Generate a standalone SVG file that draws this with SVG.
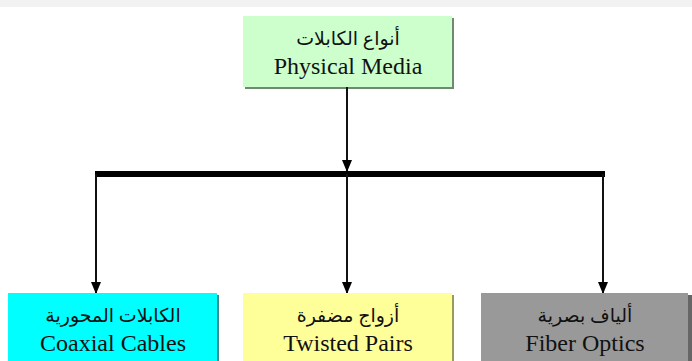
<svg xmlns="http://www.w3.org/2000/svg" width="692" height="361" viewBox="0 0 692 361">
<style>
.t{font-family:"Liberation Serif","Times New Roman",serif;font-size:24px;fill:#111;text-anchor:middle}
.a{font-family:"Liberation Serif","DejaVu Sans",serif;font-size:19px;fill:#111;text-anchor:middle}
.ln{stroke:#111;stroke-width:2;fill:none}
</style>
<defs>
<marker id="ah" viewBox="0 0 12 10" refX="12" refY="5" markerWidth="12" markerHeight="10" markerUnits="userSpaceOnUse" orient="auto">
<path d="M0,0 L12,5 L0,10 Z" fill="#000"/>
</marker>
</defs>
<rect x="0" y="0" width="692" height="361" fill="#fff"/>
<rect x="0" y="0" width="692" height="7" fill="#f2f2f2"/>
<g id="physical-media">
<rect x="245" y="18" width="209" height="71" fill="#6f8a6f"/>
<rect x="243" y="16" width="209" height="71" fill="#ccffcc"/>
<text class="a" x="348" y="45" direction="rtl">أنواع الكابلات</text>
<text class="t" x="348" y="74">Physical Media</text>
</g>
<g id="connectors">
<line class="ln" x1="347" y1="87" x2="347" y2="172" marker-end="url(#ah)"/>
<rect x="95" y="171" width="510" height="6" fill="#000"/>
<line class="ln" x1="96" y1="174" x2="96" y2="294" marker-end="url(#ah)"/>
<line class="ln" x1="347" y1="174" x2="347" y2="294" marker-end="url(#ah)"/>
<line class="ln" x1="603" y1="174" x2="603" y2="294" marker-end="url(#ah)"/>
</g>
<g id="coaxial">
<rect x="10" y="295" width="209" height="70" fill="#3a8a8a"/>
<rect x="8" y="293" width="209" height="70" fill="#00ffff"/>
<text class="a" x="113" y="322" direction="rtl">الكابلات المحورية</text>
<text class="t" x="113" y="351">Coaxial Cables</text>
</g>
<g id="twisted">
<rect x="245" y="295" width="209" height="70" fill="#9a9a5a"/>
<rect x="243" y="293" width="209" height="70" fill="#ffff99"/>
<text class="a" x="348" y="322" direction="rtl">أزواج مضفرة</text>
<text class="t" x="348" y="351">Twisted Pairs</text>
</g>
<g id="fiber">
<rect x="483" y="295" width="209" height="70" fill="#666"/>
<rect x="481" y="293" width="207" height="70" fill="#999999"/>
<text class="a" x="585" y="322" direction="rtl">ألياف بصرية</text>
<text class="t" x="585" y="351">Fiber Optics</text>
</g>
</svg>
